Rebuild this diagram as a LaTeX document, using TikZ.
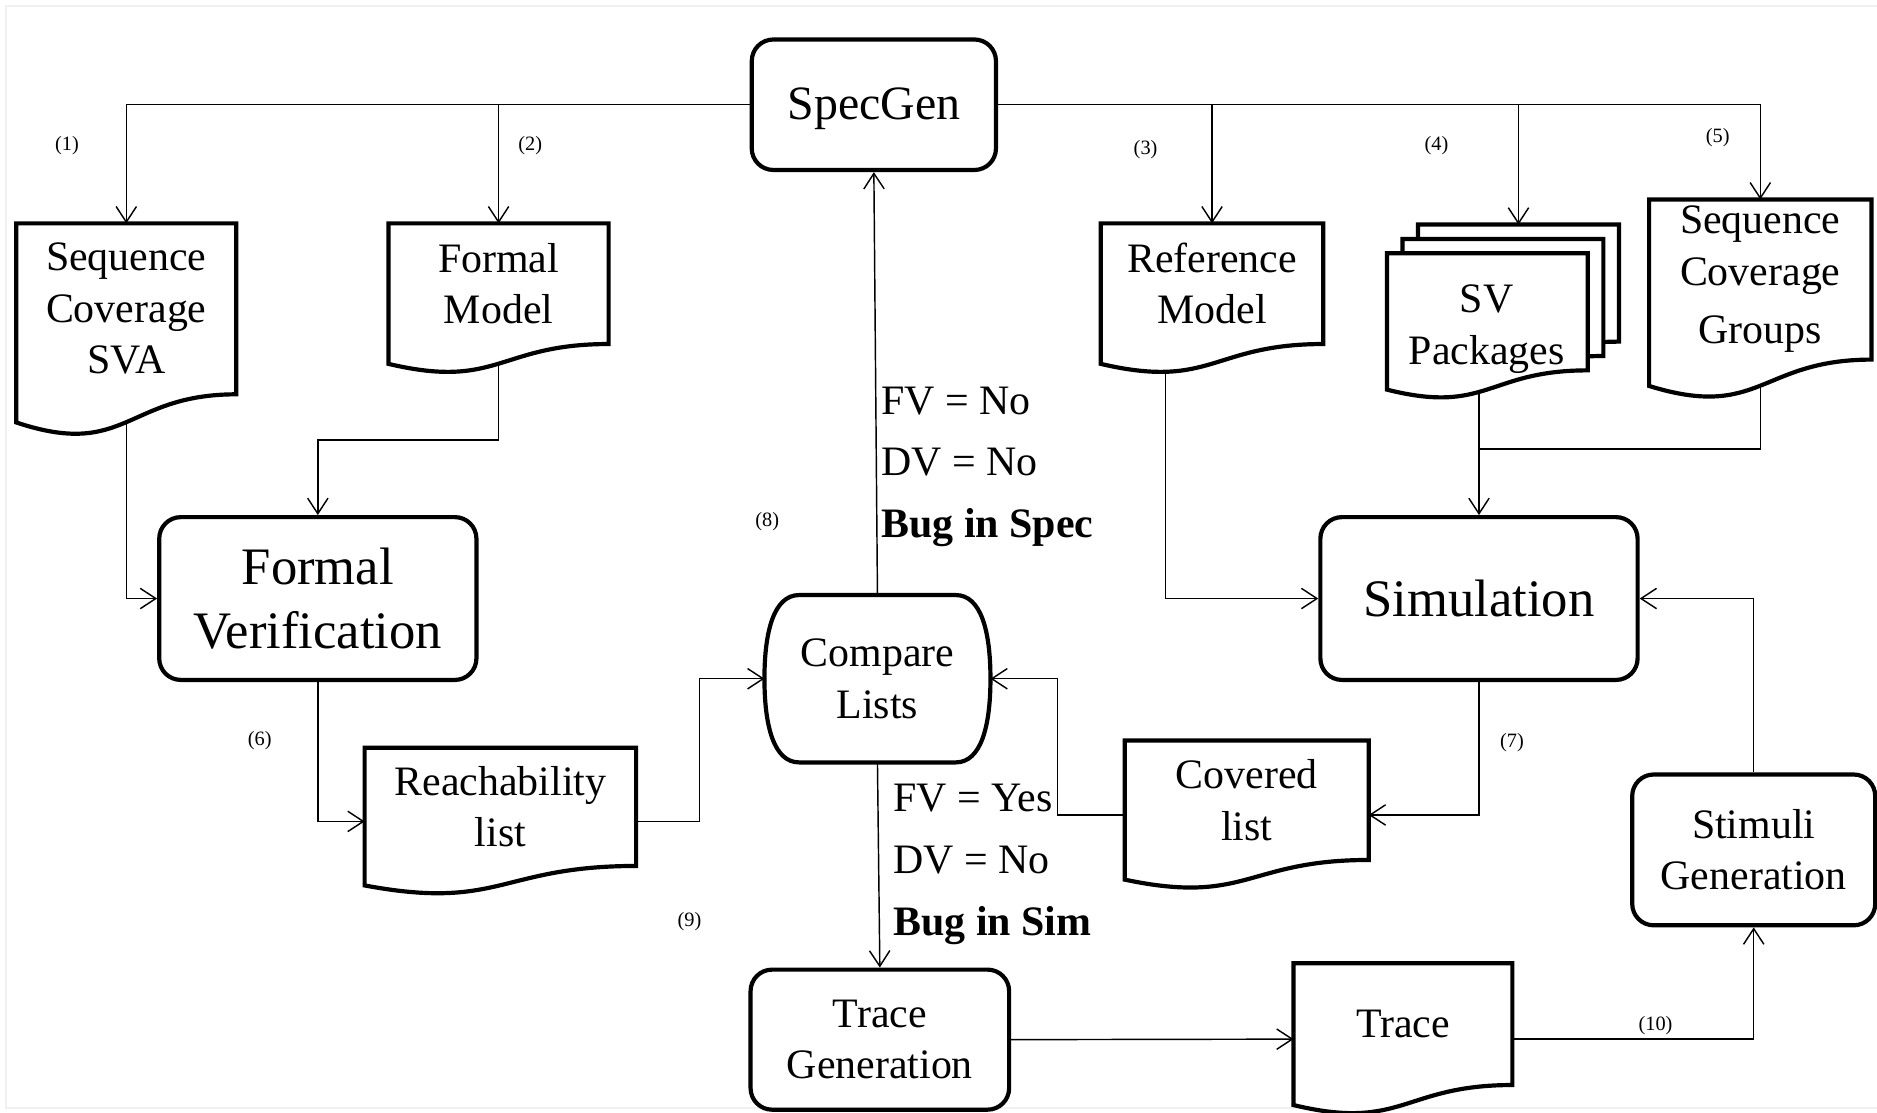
\documentclass[tikz,border=0pt]{standalone}
\usepackage{fontspec}
\setmainfont{Liberation Serif}
\usetikzlibrary{arrows.meta,calc}

\pgfdeclarelayer{wires}
\pgfdeclarelayer{sheets}
\pgfsetlayers{wires,sheets,main}

% document sheet with wavy foot, hung under a named node
\newcommand{\docshape}[1]{%
  \draw[docline] (#1.north west) -- (#1.north east) -- (#1.south east)
    .. controls (#1.south) and ($(#1.south)!-0.38!(#1.north)$)
    .. ($(#1.south west)!-0.1646!(#1.north west)$) -- cycle;
  \coordinate (#1-l) at ($(#1.north west)!0.6234!(#1.south west)$);
  \coordinate (#1-r) at ($(#1.north east)!0.6234!(#1.south east)$);
}

\tikzset{
  boxline/.style={line width=1.75pt},
  proc/.style={draw, boxline, rounded corners=9pt, align=center, inner sep=0pt},
  docnode/.style={align=center, inner sep=0pt},
  docline/.style={boxline, fill=white},
  wire/.style={line width=0.6pt},
  link/.style={wire, -{Straight Barb[length=6.5pt,width=8.5pt]}},
  num/.style={font=\fontsize{8.5}{10}\selectfont, inner sep=0pt},
  txt/.style={font=\fontsize{17.5}{21.5}\selectfont},
  bigtxt/.style={font=\fontsize{22}{26.5}\selectfont},
}

\begin{document}
\begin{tikzpicture}[x=0.5pt,y=0.5pt,yscale=-1,xscale=1]
\useasboundingbox (0,0) rectangle (1568,929);

%Shape: Rounded Rectangle
\draw (730,87.5) node[proc, minimum width=102pt, minimum height=54.5pt, font=\fontsize{20}{24}\selectfont, text depth=1pt] (specgen) {SpecGen};
\draw (265.5,500) node[proc, bigtxt, minimum width=132.5pt, minimum height=68pt] (formver) {Formal\\Verification};
\draw (1235.5,500) node[proc, bigtxt, minimum width=132.5pt, minimum height=68pt] (sim) {Simulation};
\draw (1465,710) node[proc, txt, minimum width=101.5pt, minimum height=63pt] (stim) {Stimuli\\Generation};
\draw (735,868.5) node[proc, txt, minimum width=108pt, minimum height=58.5pt] (tracegen) {Trace\\Generation};

%Shape: Document
\draw (105.5,258) node[docnode, txt, minimum width=91.5pt, minimum height=71pt] (seqsva) {Sequence\\Coverage\\SVA};
\draw (416.5,237) node[docnode, txt, minimum width=91.5pt, minimum height=50pt] (fmodel) {Formal\\Model};
\draw (1012.5,237) node[docnode, txt, minimum width=92.5pt, minimum height=50pt] (refmodel) {Reference\\Model};
\draw (1470.5,233.5) node[docnode, txt, minimum width=92.5pt, minimum height=66.5pt] (scgroups) {Sequence\\Coverage\\[3pt]Groups};
\draw (418,674) node[docnode, txt, minimum width=113pt, minimum height=49pt] (reach) {Reachability\\list};
\draw (1041.5,668.5) node[docnode, txt, minimum width=101.5pt, minimum height=49.5pt] (cov) {Covered\\list};
\draw (1172,855.5) node[docnode, txt, minimum width=91pt, minimum height=50.5pt] (trace) {Trace};

%Shape: Multidocument
\draw (1268.5,236.5) node[docnode, minimum width=83.5pt, minimum height=48.5pt] (svback) {};
\draw (1255.5,248.5) node[docnode, minimum width=83.5pt, minimum height=48.5pt] (svmid) {};
\draw (1242.5,260.5) node[docnode, minimum width=83.5pt, minimum height=48.5pt] (svfront) {};
\draw (1242,275) node[docnode, txt] (svtext) {SV\\Packages};

%Shape: Compare
\draw (733,567) node[docnode, txt, minimum width=94pt, minimum height=69.5pt] (cmp) {Compare\\Lists};
\draw[boxline] ($(cmp.north west)+(29,0)$) -- ($(cmp.north east)+(-29,0)$)
  .. controls ($(cmp.north east)+(-8,0)$) and ($(cmp.east)+(0,-40)$) .. (cmp.east)
  .. controls ($(cmp.east)+(0,40)$) and ($(cmp.south east)+(-8,0)$) .. ($(cmp.south east)+(-29,0)$)
  -- ($(cmp.south west)+(29,0)$)
  .. controls ($(cmp.south west)+(8,0)$) and ($(cmp.west)+(0,40)$) .. (cmp.west)
  .. controls ($(cmp.west)+(0,-40)$) and ($(cmp.north west)+(8,0)$) .. cycle;

\begin{pgfonlayer}{sheets}
\docshape{seqsva}
\docshape{fmodel}
\docshape{refmodel}
\docshape{scgroups}
\docshape{reach}
\docshape{cov}
\docshape{trace}
\docshape{svback}
\docshape{svmid}
\docshape{svfront}
\end{pgfonlayer}

\begin{pgfonlayer}{wires}
% frame
\draw[gray!12, line width=1pt] (1568,5) -- (5,5) -- (5,925.5) -- (1568,925.5);

%Straight Lines
\draw[link] (specgen.west) -| (seqsva.north);
\draw[link] (specgen.west) -| (fmodel.north);
\draw[link] (specgen.east) -| (refmodel.north);
\draw[link] (specgen.east) -| (svback.north);
\draw[link] (specgen.east) -| (scgroups.north);
\draw[link] (seqsva.south) |- (formver.west);
\draw[link] (fmodel.south) -- ++(0,80) -| (formver.north);
\draw[link] ($(refmodel.south)+(-39,0)$) |- (sim.west);
\draw[link] (sim.north |- svfront.south) -- (sim.north);
\draw[wire] (scgroups.south) |- ($(sim.north)+(0,-55)$);
\draw[link] (formver.south) |- (reach-l);
\draw[link] (reach-r) -- ++(53,0) |- (cmp.west);
\draw[link] (cov-l) -- ++(-56,0) |- (cmp.east);
\draw[link] (sim.south) |- (cov-r);
\draw[link] (cmp.north) -- (specgen.south);
\draw[link] (cmp.south) -- (tracegen.north);
\draw[link] (tracegen.east) -- (trace-l);
\draw[link] (trace-r) -| (stim.south);
\draw[link] (stim.north) |- (sim.east);
\end{pgfonlayer}

% Text Node
\draw (736,390) node[txt, anchor=west, align=left, inner sep=0pt, font=\fontsize{17.5}{25.75}\selectfont] (specbug) {FV = No\\DV = No\\\textbf{Bug in Spec}};
% Text Node
\draw (746,722) node[txt, anchor=west, align=left, inner sep=0pt, font=\fontsize{17.5}{25.75}\selectfont] (simbug) {FV = Yes\\DV = No\\\textbf{Bug in Sim}};
% Text Node
\draw (56,122) node[num] (n1) {(1)};
\draw (443,122) node[num] (n2) {(2)};
\draw (957,125) node[num] (n3) {(3)};
\draw (1200,122) node[num] (n4) {(4)};
\draw (1435,115) node[num] (n5) {(5)};
\draw (217,619) node[num] (n6) {(6)};
\draw (1263,620) node[num] (n7) {(7)};
\draw (641,436) node[num] (n8) {(8)};
\draw (576,770) node[num] (n9) {(9)};
\draw (1383,857) node[num] (n10) {(10)};

\end{tikzpicture}
\end{document}
